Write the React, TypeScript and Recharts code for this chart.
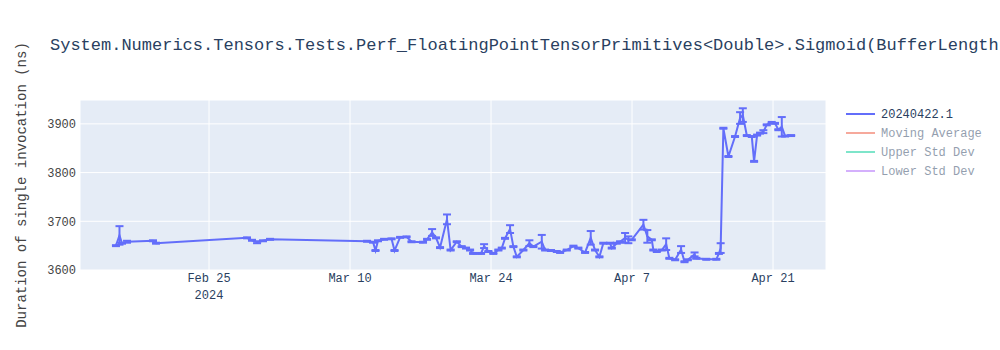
import React from 'react';
import { LineChart, Line, XAxis, YAxis, CartesianGrid, ErrorBar, Legend } from 'recharts';

// day of year 2024 (Jan 1 = 0), so Feb 25 = 55
const DAYS = [
  45.76, 46.11, 46.36, 46.86, 49.44, 49.74, 58.77, 59.27, 59.77, 60.36, 61.06,
  70.69, 71.29, 71.53, 71.78, 72.38, 73.12, 73.42, 73.97, 74.61, 75.11, 76.25,
  76.65, 77.15, 77.54, 77.94, 78.63, 78.99, 79.6, 80.09, 80.52, 80.92, 81.22,
  82.01, 82.31, 82.74, 83.23, 83.73, 84.07, 84.39, 84.89, 85.22, 85.56, 86.21,
  86.81, 87.2, 88.04, 88.37, 88.96, 89.53, 89.86, 90.52, 91.18, 91.67, 92.34,
  92.9, 93.33, 93.76, 94.15, 94.82, 94.99, 95.49, 95.81, 96.31, 96.64, 96.97,
  98.13, 98.52, 98.96, 99.12, 99.46, 99.96, 100.39, 100.71, 101.28, 101.87,
  102.21, 102.54, 103.21, 103.38, 104.37, 105.37, 105.63, 105.8, 106.07, 106.57,
  107.23, 107.73, 108.0, 108.4, 108.89, 109.12, 109.42, 109.71, 110.04, 110.38,
  110.87, 111.2, 111.53, 111.87, 112.2, 112.8,
];

const DURATIONS = [
  3650, 3671, 3655, 3658, 3660, 3655, 3666, 3661, 3657, 3660, 3663,
  3659, 3657, 3640, 3660, 3663, 3664, 3640, 3667, 3668, 3658, 3657,
  3663, 3677, 3666, 3646, 3704, 3641, 3658, 3648, 3645, 3641, 3634,
  3634, 3649, 3638, 3634, 3641, 3645, 3665, 3684, 3648, 3627, 3641,
  3655, 3648, 3658, 3641, 3640, 3638, 3636, 3641, 3649, 3645, 3636,
  3666, 3641, 3627, 3655, 3655, 3645, 3655, 3658, 3666, 3662, 3662,
  3693, 3669, 3662, 3641, 3638, 3641, 3653, 3624, 3621, 3642,
  3617, 3621, 3632, 3624, 3622, 3622, 3634, 3645, 3891, 3833,
  3874, 3912, 3918, 3876, 3874, 3823, 3877, 3881, 3884, 3898,
  3903, 3901, 3888, 3894, 3875, 3876,
];

const ERRORS = [
  1, 19, 1, 2, 1, 1, 1, 1, 2, 1, 1,
  1, 1, 1, 1, 1, 1, 1, 1, 1, 1, 1,
  1, 7, 1, 1, 10, 1, 1, 1, 1, 1, 1,
  1, 4, 1, 1, 1, 1, 1, 8, 1, 1, 1,
  6, 1, 14, 1, 1, 1, 1, 1, 1, 1, 1,
  14, 1, 1, 1, 1, 1, 1, 1, 10, 7, 1,
  10, 13, 1, 1, 1, 1, 12, 1, 1, 7,
  1, 1, 4, 1, 1, 1, 1, 10, 1, 1,
  1, 12, 14, 1, 1, 1, 1, 1, 3, 1,
  1, 1, 1, 20, 1, 1,
];

const X_TICKS = [55, 69, 83, 97, 111];
const X_TICK_LABELS = ['Feb 25', 'Mar 10', 'Mar 24', 'Apr 7', 'Apr 21'];
const Y_TICKS = [3600, 3700, 3800, 3900];

const SERIES_NAMES = ['20240422.1', 'Moving Average', 'Upper Std Dev', 'Lower Std Dev'];
const SERIES_COLORS = ['#636efa', '#ef553b', '#00cc96', '#ab63fa'];
const SERIES_VISIBLE = [true, false, false, false];

const TITLE = 'System.Numerics.Tensors.Tests.Perf_FloatingPointTensorPrimitives<Double>.Sigmoid(BufferLength';
const Y_TITLE = 'Duration of single invocation (ns)';

const FONT = '"Liberation Mono", "DejaVu Sans Mono", monospace';

const data = DAYS.map((day, i) => ({ day, duration: DURATIONS[i], err: ERRORS[i] }));

function DateTick({ x, y, payload }: any) {
  const i = X_TICKS.indexOf(payload.value);
  return (
    <g>
      <text x={x} y={y + 12} textAnchor="middle" fontFamily={FONT} fontSize={12} fill="#2a3f5f">
        {X_TICK_LABELS[i]}
      </text>
      {i === 0 && (
        <text x={x} y={y + 29} textAnchor="middle" fontFamily={FONT} fontSize={12} fill="#2a3f5f">
          2024
        </text>
      )}
    </g>
  );
}

function LegendBox() {
  return (
    <svg width={160} height={90}>
      {SERIES_NAMES.map((name, i) => (
        <g key={name} opacity={SERIES_VISIBLE[i] ? 1 : 0.5}>
          <line x1={6} x2={35} y1={14 + i * 19} y2={14 + i * 19} stroke={SERIES_COLORS[i]} strokeWidth={2} />
          <text x={41} y={14 + i * 19} dy="0.35em" fontFamily={FONT} fontSize={12} fill="#2a3f5f">
            {name}
          </text>
        </g>
      ))}
    </svg>
  );
}

export default function App() {
  return (
    <div style={{ position: 'absolute', left: 0, top: 0, width: 1000, height: 350, background: '#fff' }}>
      <LineChart width={1000} height={350} data={data} margin={{ top: 100, right: 174, bottom: 50, left: 40 }}>
        <CartesianGrid fill="#e5ecf6" stroke="#fff" strokeWidth={1} />
        <XAxis
          dataKey="day"
          type="number"
          domain={[42.19, 116.26]}
          ticks={X_TICKS}
          tick={<DateTick />}
          axisLine={false}
          tickLine={false}
          tickSize={0}
          tickMargin={0}
          height={30}
          allowDataOverflow
        />
        <YAxis
          type="number"
          domain={[3600, 3949]}
          ticks={Y_TICKS}
          tick={{ fill: '#444', fontSize: 12, fontFamily: FONT }}
          axisLine={false}
          tickLine={false}
          tickSize={0}
          tickMargin={4}
          width={40}
          allowDataOverflow
        />
        <Legend
          layout="vertical"
          align="center"
          verticalAlign="middle"
          content={<LegendBox />}
          wrapperStyle={{ left: 840, top: 100, width: 160 }}
        />
        <Line
          dataKey="duration"
          name="20240422.1"
          type="linear"
          stroke="#636efa"
          strokeWidth={2}
          dot={false}
          activeDot={false}
          isAnimationActive={false}
        >
          <ErrorBar dataKey="err" width={4} stroke="#636efa" strokeWidth={2} direction="y" />
        </Line>
      </LineChart>
      <svg width={1000} height={350} style={{ position: 'absolute', left: 0, top: 0, pointerEvents: 'none' }}>
        <text x={50} y={50} fontFamily={FONT} fontSize={17} fill="#2a3f5f">
          {TITLE}
        </text>
        <text
          x={0}
          y={0}
          transform="translate(26,185) rotate(-90)"
          textAnchor="middle"
          fontFamily={FONT}
          fontSize={14}
          fill="#444"
        >
          {Y_TITLE}
        </text>
      </svg>
    </div>
  );
}
